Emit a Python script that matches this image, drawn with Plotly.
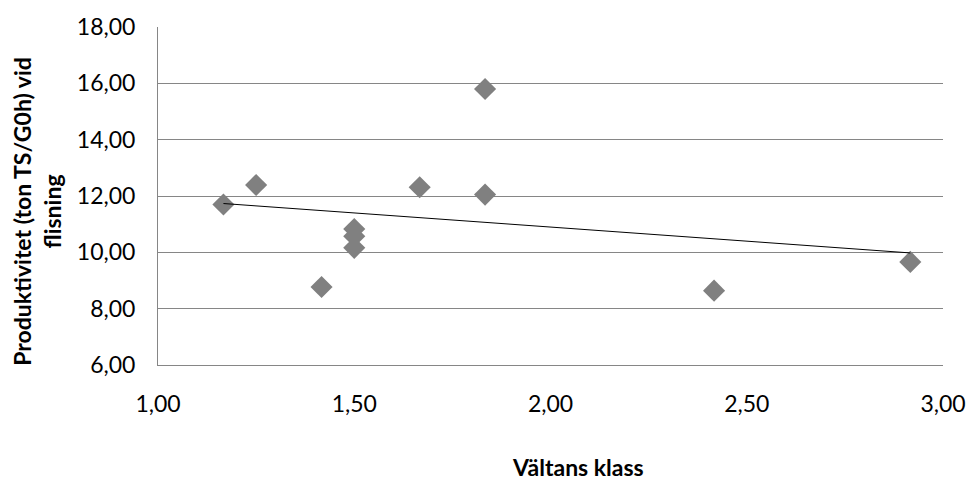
import numpy as np
import plotly.graph_objects as go

# Data
valtans_klass = [1.1667, 1.25, 1.4167, 1.5, 1.5, 1.5, 1.6667, 1.8333, 1.8333, 2.4167, 2.9167]
produktivitet = [11.70, 12.39, 8.77, 10.83, 10.57, 10.16, 12.31, 15.80, 12.05, 8.64, 9.66]

x_title = "Vältans klass"
y_title = "Produktivitet (ton TS/G0h) vid<br>flisning"

# Linear trendline (least squares) drawn across the data range
slope, intercept = np.polyfit(valtans_klass, produktivitet, 1)
trend_x = [min(valtans_klass), max(valtans_klass)]
trend_y = [slope * v + intercept for v in trend_x]

FONT = "Lato, 'Open Sans', sans-serif"
FS = 23

fig = go.Figure()
fig.add_trace(go.Scatter(
    x=valtans_klass, y=produktivitet, mode="markers",
    marker=dict(symbol="diamond", size=17, color="#808080", line=dict(width=0)),
    showlegend=False, hoverinfo="skip"))
fig.add_trace(go.Scatter(
    x=trend_x, y=trend_y, mode="lines",
    line=dict(color="black", width=1),
    showlegend=False, hoverinfo="skip"))

fig.update_layout(
    width=978, height=481,
    margin=dict(l=158, r=25, t=21, b=116),
    paper_bgcolor="white", plot_bgcolor="white",
    separators=", ",
    font=dict(family=FONT, size=FS, color="black"),
    xaxis=dict(
        range=[1, 3], dtick=0.5, tick0=1, tickformat=".2f",
        showgrid=False, zeroline=False,
        showline=True, linecolor="#868686", linewidth=1,
        ticks="", ticklabelstandoff=18,
    ),
    yaxis=dict(
        range=[6, 18], dtick=2, tick0=6, tickformat=".2f",
        showgrid=True, gridcolor="#868686", gridwidth=1, zeroline=False,
        showline=True, linecolor="#868686", linewidth=1,
        ticks="", ticklabelstandoff=17,
    ),
    annotations=[
        dict(text=f"<b>{x_title}</b>", xref="paper", yref="paper",
             x=(583 - 158) / 795, y=0, yshift=-102,
             xanchor="center", yanchor="middle", showarrow=False,
             font=dict(family=FONT, size=FS, color="black")),
        dict(text=f"<b>{y_title}</b>", xref="paper", yref="paper",
             x=0, xshift=-121, y=(365 - 209) / 344,
             xanchor="center", yanchor="middle", showarrow=False, textangle=-90,
             font=dict(family=FONT, size=FS, color="black")),
    ],
)

fig.write_html("out.html")
